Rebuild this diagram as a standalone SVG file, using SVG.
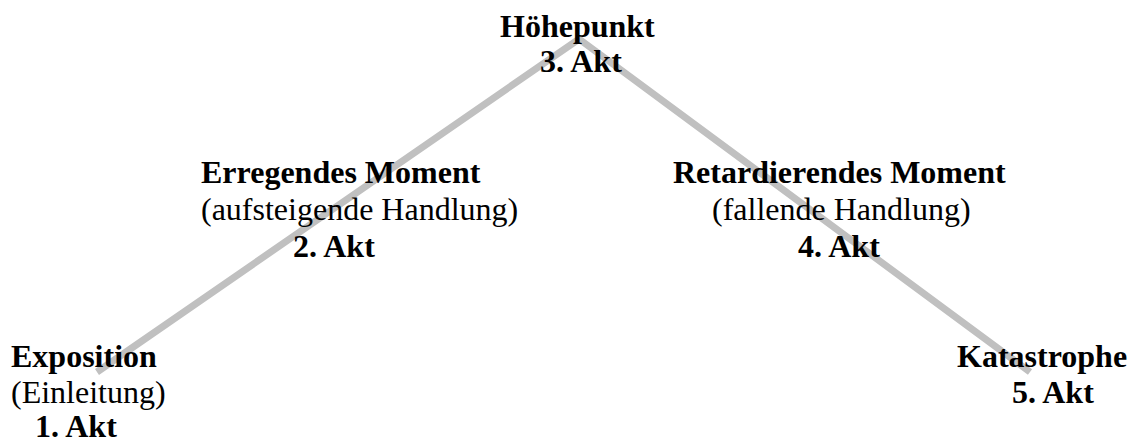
<svg xmlns="http://www.w3.org/2000/svg" width="1130" height="443" viewBox="0 0 1130 443">
<style>
  text { font-family: "Liberation Serif", "Times New Roman", serif; font-size: 32px; fill: #000; }
  .b { font-weight: bold; }
  .conn { stroke: #c0c0c0; stroke-width: 7; fill: none; stroke-linejoin: miter; stroke-linecap: butt; }
</style>
<rect width="1130" height="443" fill="#fff"/>
<g id="connectors">
  <polyline class="conn" points="97,372 579,39 1030,372"/>
</g>
<g id="hoehepunkt">
  <text class="b" x="500" y="37">Höhepunkt</text>
  <text class="b" x="540" y="72">3. Akt</text>
</g>
<g id="erregendes">
  <text class="b" x="201" y="183">Erregendes Moment</text>
  <text x="201" y="220">(aufsteigende Handlung)</text>
  <text class="b" x="293" y="257">2. Akt</text>
</g>
<g id="retardierendes">
  <text class="b" x="673" y="183">Retardierendes Moment</text>
  <text x="712" y="220">(fallende Handlung)</text>
  <text class="b" x="798" y="257">4. Akt</text>
</g>
<g id="exposition">
  <text class="b" x="11" y="367">Exposition</text>
  <text x="11" y="403">(Einleitung)</text>
  <text class="b" x="35" y="437">1. Akt</text>
</g>
<g id="katastrophe">
  <text class="b" x="957" y="367">Katastrophe</text>
  <text class="b" x="1012" y="403">5. Akt</text>
</g>
</svg>
